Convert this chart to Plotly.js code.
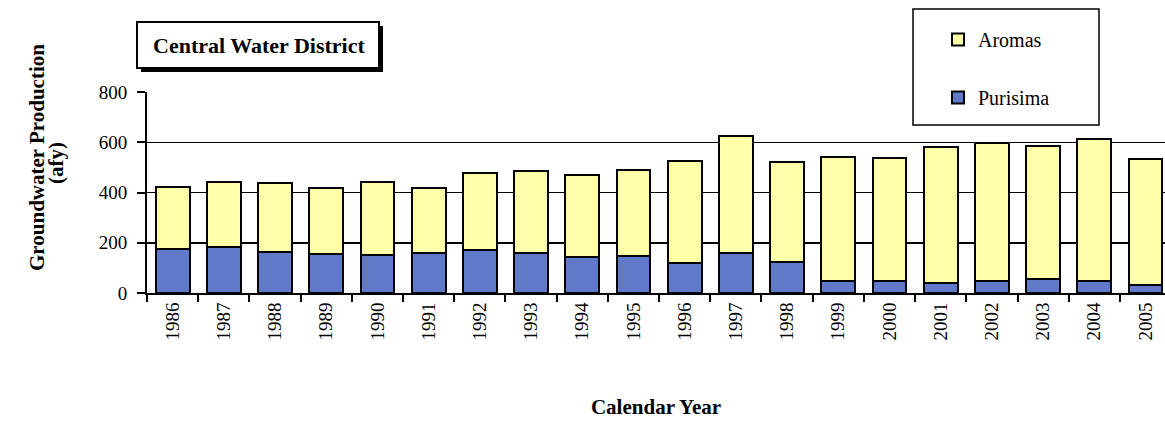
<!DOCTYPE html>
<html>
<head>
<meta charset="utf-8">
<script src="https://cdn.plot.ly/plotly-3.0.1.min.js"></script>
<style>html,body{margin:0;padding:0;background:#fff;}#chart{width:1165px;height:428px;}</style>
</head>
<body>
<div id="chart"></div>
<script>
const years = ["1986","1987","1988","1989","1990","1991","1992","1993","1994","1995","1996","1997","1998","1999","2000","2001","2002","2003","2004","2005"];
const purisima = [175,185,165,155,150,160,170,158,145,148,120,160,122,46,46,40,49,56,49,32];
const aromas = [246,255,272,262,290,257,306,328,326,342,404,466,401,497,493,542,549,530,564,502];
const yTicks = [0,200,400,600,800];

// plot-area pixel geometry
const L = 147, T = 92, B = 293, W = 1165, H = 428;
const px = x => (x - L) / (W - L);
const py = y => (B - y) / (B - T);
const serif = "Liberation Serif";

const traces = [
  {type:"bar", name:"Purisima", x:years, y:purisima, legendgroup:"p", legendrank:2,
   marker:{color:"#6079c9", line:{color:"#000", width:2}}},
  {type:"bar", name:"Aromas", x:years, y:aromas, legendgroup:"a", legendrank:1,
   marker:{color:"#ffffaa", line:{color:"#000", width:2}}}
];

const layout = {
  width:W, height:H,
  margin:{l:L, r:0, t:T, b:H-B, pad:0},
  paper_bgcolor:"#fff", plot_bgcolor:"#fff",
  barmode:"stack", bargap:0.34,
  font:{family:serif, color:"#000", size:19},
  showlegend:true,
  legend:{x:px(938), y:py(20), xanchor:"left", yanchor:"top",
          traceorder:"grouped", tracegroupgap:29,
          bgcolor:"rgba(0,0,0,0)", borderwidth:0,
          font:{family:serif, size:20, color:"#000"}},
  xaxis:{type:"category", range:[-0.5,19.38], tickangle:-90, ticks:"outside",
         tickson:"boundaries", ticklen:7, tickwidth:2, tickcolor:"#000",
         showline:true, linecolor:"#000", linewidth:2, showgrid:false,
         tickfont:{family:serif, size:19, color:"#000"},
         title:{text:"<b>Calendar Year</b>", font:{family:serif, size:21, color:"#000"}, standoff:60}},
  yaxis:{range:[0,800], tickvals:yTicks, ticktext:yTicks.map(String), ticks:"outside",
         ticklen:8, tickwidth:2, tickcolor:"#000", showline:true, linecolor:"#000", linewidth:2,
         showgrid:true, gridcolor:"#000", gridwidth:1.5, zeroline:false,
         ticklabelstandoff:6,
         tickfont:{family:serif, size:19, color:"#000"},
         title:{text:""}},
  shapes:[
    // title box shadow + box
    {type:"rect", xref:"paper", yref:"paper", x0:px(141), x1:px(383), y0:py(72), y1:py(26),
     fillcolor:"#000", line:{width:0}, layer:"above"},
    {type:"rect", xref:"paper", yref:"paper", x0:px(137), x1:px(379), y0:py(68), y1:py(22),
     fillcolor:"#fff", line:{color:"#000", width:2}, layer:"above"},
    // legend box
    {type:"rect", xref:"paper", yref:"paper", x0:px(913), x1:px(1099), y0:py(125), y1:py(9),
     fillcolor:"#fff", line:{color:"#000", width:1.5}, layer:"above"}
  ],
  annotations:[
    {xref:"paper", yref:"paper", x:px(259), y:py(45), xanchor:"center", yanchor:"middle",
     text:"<b>Central Water District</b>", showarrow:false,
     font:{family:serif, size:22, color:"#000"}},
    // y-axis title, two lines
    {xref:"paper", yref:"paper", x:px(37), y:py(158), xanchor:"center", yanchor:"middle",
     text:"<b>Groundwater Production</b>", textangle:-90, showarrow:false,
     font:{family:serif, size:21, color:"#000"}},
    {xref:"paper", yref:"paper", x:px(56), y:py(163), xanchor:"center", yanchor:"middle",
     text:"<b>(afy)</b>", textangle:-90, showarrow:false,
     font:{family:serif, size:21, color:"#000"}}
  ]
};

Plotly.newPlot("chart", traces, layout, {displayModeBar:false, staticPlot:true});
</script>
</body>
</html>
